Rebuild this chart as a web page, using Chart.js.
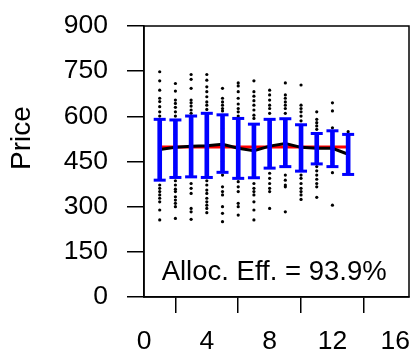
<!DOCTYPE html>
<html>
<head>
<meta charset="utf-8">
<script src="https://cdn.jsdelivr.net/npm/chart.js@4.4.1/dist/chart.umd.min.js"></script>
<style>
  body { margin: 0; background: #fff; }
  #wrap { width: 418px; height: 353px; }
</style>
</head>
<body>
<div id="wrap"><canvas id="myChart" width="418" height="353"></canvas></div>
<script>
const periods = [1, 2, 3, 4, 5, 6, 7, 8, 9, 10, 11, 12, 13]
const meanPrice = [490, 497, 501, 502, 507, 494, 486, 501, 510, 497, 494, 494, 474]
const sdHigh = [590, 588, 601, 610, 605, 593, 574, 590, 592, 572, 543, 552, 540]
const sdLow = [388, 397, 399, 397, 414, 394, 396, 428, 433, 418, 442, 433, 407]
const eqPrice = 498
const xTicks = [0, 4, 8, 12, 16]
const yTicks = [0, 150, 300, 450, 600, 750, 900]
const effText = 'Alloc. Eff. = 93.9%'

// prices of each trade, one list per period
const tradePrices = [
  [748, 718, 687, 660, 649, 632, 615, 601, 550, 500, 460, 420, 372, 361, 350, 339, 328, 316, 289, 256],
  [709, 684, 654, 643, 630, 615, 601, 540, 480, 430, 386, 372, 358, 350, 333, 322, 311, 300, 261],
  [739, 723, 693, 654, 645, 634, 621, 610, 560, 500, 440, 377, 361, 344, 294, 283, 258],
  [739, 720, 698, 682, 665, 648, 637, 623, 560, 500, 440, 386, 372, 355, 344, 328, 316, 305, 294, 280],
  [693, 660, 648, 637, 626, 618, 560, 500, 450, 405, 366, 350, 339, 300, 278, 250],
  [711, 701, 682, 660, 641, 626, 615, 601, 550, 490, 440, 383, 366, 350, 311, 300, 272],
  [718, 682, 667, 652, 637, 621, 604, 593, 540, 480, 430, 377, 361, 350, 339, 316, 289, 256],
  [687, 671, 654, 637, 626, 610, 560, 500, 460, 411, 394, 377, 361, 350, 294],
  [711, 671, 660, 648, 637, 626, 610, 560, 500, 460, 405, 388, 372, 366, 283],
  [704, 637, 626, 615, 601, 585, 540, 490, 450, 405, 394, 377, 361, 350, 339, 324],
  [615, 590, 579, 568, 557, 520, 480, 433, 419, 405, 391, 377, 366, 331],
  [645, 618, 562, 520, 480, 450, 413, 305],
  [549, 520, 480, 450, 420]
]

const FONT = '"Liberation Sans", Arial, sans-serif'

const dots = []
tradePrices.forEach((list, i) => {
  list.forEach(p => dots.push({x: periods[i], y: p}))
})

const caps = []
periods.forEach((p, i) => {
  caps.push({x: p, y: sdLow[i]})
  caps.push({x: p, y: sdHigh[i]})
})

// box round the plot + the free text
const extras = {
  id: 'extras',
  afterDraw(chart) {
    const ctx = chart.ctx
    const a = chart.chartArea
    const xs = chart.scales.x
    const ys = chart.scales.y
    ctx.save()
    ctx.strokeStyle = '#000'
    ctx.lineWidth = 1.5
    ctx.strokeRect(a.left, a.top, a.right - a.left, a.bottom - a.top)

    ctx.fillStyle = '#000'
    ctx.font = '27.5px ' + FONT
    ctx.textAlign = 'left'
    ctx.textBaseline = 'alphabetic'
    ctx.fillText(effText, xs.getPixelForValue(1.125), ys.getPixelForValue(56))

    ctx.font = '28px ' + FONT
    ctx.translate(22.5, 138)
    ctx.rotate(-Math.PI / 2)
    ctx.textAlign = 'center'
    ctx.textBaseline = 'middle'
    ctx.fillText('Price', 0, 0)
    ctx.restore()
  }
}

const config = {
  type: 'scatter',
  data: {
    datasets: [
      {
        type: 'bar',
        data: periods.map((p, i) => ({x: p, y: [sdLow[i], sdHigh[i]]})),
        backgroundColor: '#0000ff',
        barThickness: 4,
        grouped: false,
        order: 0
      },
      {
        type: 'scatter',
        data: caps,
        pointStyle: 'line',
        pointRadius: 6,
        borderWidth: 3,
        borderColor: '#0000ff',
        order: 0
      },
      {
        type: 'line',
        data: periods.map((p, i) => ({x: p, y: meanPrice[i]})),
        borderColor: '#000',
        borderWidth: 3,
        pointRadius: 0,
        order: 1
      },
      {
        type: 'line',
        data: [{x: periods[0], y: eqPrice}, {x: periods[periods.length - 1], y: eqPrice}],
        borderColor: '#ff0000',
        borderWidth: 3,
        pointRadius: 0,
        order: 2
      },
      {
        type: 'scatter',
        data: dots,
        pointRadius: 1.6,
        backgroundColor: '#000',
        borderWidth: 0,
        order: 3
      }
    ]
  },
  options: {
    responsive: false,
    animation: false,
    events: [],
    layout: { padding: { top: 26, right: 1, left: 0, bottom: 0 } },
    plugins: {
      legend: { display: false },
      tooltip: { enabled: false }
    },
    scales: {
      x: {
        type: 'linear',
        min: 0,
        max: 16.875,
        offset: false,
        afterBuildTicks: s => { s.ticks = xTicks.map(v => ({value: v})) },
        afterFit: s => {
          s.height = 56
          s.paddingLeft = 0
          s.paddingRight = 0
        },
        ticks: { color: '#000', font: { family: FONT, size: 26.5 }, padding: 13, maxRotation: 0 },
        grid: { drawOnChartArea: false, tickLength: 16, color: '#000', lineWidth: 1.5 },
        border: { color: '#000', width: 1.5 }
      },
      y: {
        min: 0,
        max: 900,
        afterBuildTicks: s => { s.ticks = yTicks.map(v => ({value: v})) },
        afterFit: s => {
          s.width = 144
          s.paddingTop = 0
          s.paddingBottom = 0
        },
        ticks: { color: '#000', font: { family: FONT, size: 26.5 }, padding: 19 },
        grid: { drawOnChartArea: false, tickLength: 17, color: '#000', lineWidth: 1.5 },
        border: { color: '#000', width: 1.5 }
      }
    }
  },
  plugins: [extras]
}

const myChart = new Chart(document.getElementById('myChart'), config)
</script>
</body>
</html>
